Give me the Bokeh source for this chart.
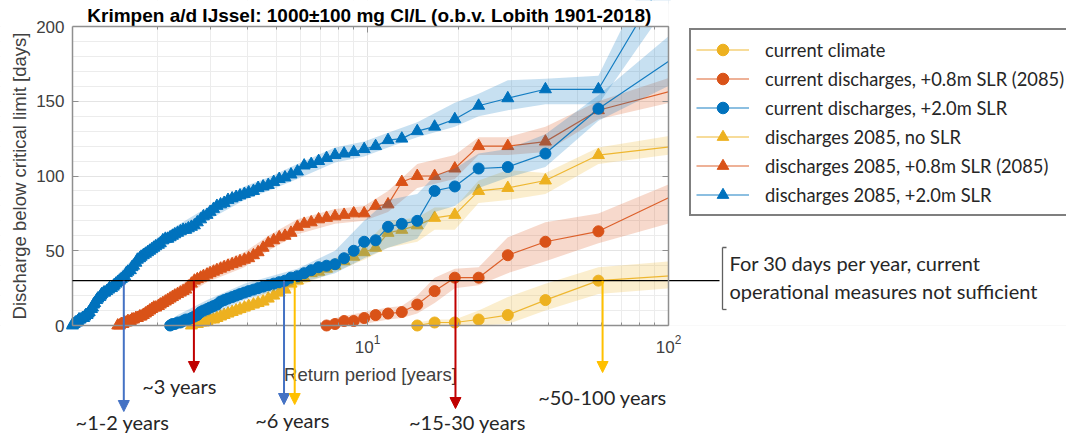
from bokeh.plotting import figure
from bokeh.models import (Range1d, FixedTicker, Legend, LegendItem, Label, Arrow, NormalHead,
                          BoxAnnotation, LogAxis, LinearAxis)
from bokeh.embed import file_html
from bokeh.resources import INLINE

# ---------------- data ----------------
# return periods [years] belonging to rank 1, 2, 3, ... (117 / rank)
return_period = [117, 58.5, 39, 29.25, 23.4, 19.5, 16.71, 14.63, 13.0, 11.7,
                 10.64, 9.75, 9.0, 8.36, 7.8, 7.31, 6.88, 6.5, 6.16, 5.85,
                 5.57, 5.32, 5.09, 4.88, 4.68, 4.5, 4.33, 4.18, 4.03, 3.9,
                 3.77, 3.66, 3.55, 3.44, 3.34, 3.25, 3.16, 3.08, 3.0, 2.93,
                 2.85, 2.79, 2.72, 2.66, 2.6, 2.54, 2.49, 2.44, 2.39, 2.34,
                 2.29, 2.25, 2.21, 2.17, 2.13, 2.09, 2.05, 2.02, 1.98, 1.95,
                 1.92, 1.89, 1.86, 1.83, 1.8, 1.77, 1.75, 1.72, 1.7, 1.67,
                 1.65, 1.63, 1.6, 1.58, 1.56, 1.54, 1.52, 1.5, 1.48, 1.46,
                 1.44, 1.43, 1.41, 1.39, 1.38, 1.36, 1.34, 1.33, 1.31, 1.3,
                 1.29, 1.27, 1.26, 1.24, 1.23, 1.22, 1.21, 1.19, 1.18, 1.17,
                 1.16, 1.15, 1.14, 1.13, 1.11, 1.1, 1.09, 1.08, 1.07, 1.06,
                 1.05, 1.047]

# days below critical limit, sorted per rank
cur_climate = [34, 30, 17, 7, 4, 2, 2, 0]
cur_slr08 = [92, 63, 56, 47, 32, 32, 23, 14, 9, 8, 7, 5, 3, 3, 1, 0]
cur_slr20 = [186, 145, 115, 106, 105, 93, 90, 70, 68, 66,
             57, 56, 50, 45, 41, 40, 39, 37, 35, 33,
             32, 30, 29, 28, 27, 26, 25, 24, 23, 22,
             21, 20, 19, 18, 17, 16, 14, 13, 12, 11,
             10, 9, 7, 6, 5, 4, 4, 3, 2, 2,
             1, 1, 0]
fut_noslr = [121, 114, 97, 92, 90, 74, 72, 67, 64, 62,
             52, 49, 46, 43, 40, 38, 36, 35, 32, 30,
             28, 24, 22, 20, 18, 16, 15, 14, 13, 12,
             11, 10, 9, 8, 7, 6, 5, 4, 4, 3,
             2, 2, 1, 1, 0]
fut_slr08 = [160, 144, 123, 120, 120, 105, 100, 100, 96, 81,
             80, 75, 75, 74, 73, 72, 71, 69, 68, 66,
             62, 60, 59, 57, 55, 52, 49, 47, 45, 44,
             43, 42, 41, 40, 39, 38, 37, 36, 35, 34,
             33, 32, 31, 30, 28, 26, 24, 23, 22, 21,
             20, 19, 18, 17, 16, 15, 14, 13, 12, 12,
             11, 10, 9, 8, 7, 6, 6, 5, 5, 4,
             4, 3, 3, 2, 2, 1, 1, 0, 0]
fut_slr20 = [260, 158, 158, 152, 147, 138, 133, 130, 125, 124,
             120, 118, 116, 115, 114, 112, 110, 108, 107, 103,
             101, 99, 98, 96, 94, 93, 92, 90, 89, 88,
             87, 86, 85, 84, 82, 81, 80, 78, 76, 74,
             73, 71, 69, 67, 66, 65, 64, 64, 63, 62,
             61, 60, 59, 58, 58, 57, 55, 54, 53, 52,
             51, 50, 49, 48, 47, 46, 45, 44, 42, 40,
             39, 37, 36, 35, 33, 32, 31, 30, 29, 28,
             27, 26, 25, 25, 24, 23, 22, 22, 21, 20,
             19, 18, 17, 15, 14, 12, 11, 9, 8, 7,
             7, 6, 5, 5, 4, 4, 3, 2, 2, 1,
             1, 0]

# uncertainty bands (900 / 1100 mg Cl/L)
cur_climate_band_T = [117, 58.5, 39, 29.25, 23.4, 19.5, 16.71, 14.63]
cur_climate_band_lo = [26, 21, 10, 1, 0, 0, 0, 0]
cur_climate_band_hi = [44, 39, 28, 19, 10, 4, 4, 2]

cur_slr08_band_T = [117, 58.5, 39, 29.25, 23.4, 19.5, 16.71, 14.63, 13.0, 11.7, 9.75, 7.8, 7.31]
cur_slr08_band_lo = [72, 55, 43, 35, 27, 25, 15, 8, 5, 4, 1, 0, 0]
cur_slr08_band_hi = [100, 75, 69, 59, 39, 38, 32, 20, 13, 12, 9, 5, 3]

cur_slr20_band_T = [117, 58.5, 39, 29.25, 23.4, 19.5, 16.71, 14.63, 11.7, 9.75, 7.8, 5.85, 3.9, 2.93, 2.34, 2.21]
cur_slr20_band_lo = [167, 137, 106, 99, 92, 80, 76, 58, 52, 45, 35, 28, 17, 6, 0, 0]
cur_slr20_band_hi = [205, 154, 128, 118, 115, 105, 100, 88, 84, 70, 50, 38, 28, 17, 7, 3]

fut_noslr_band_T = [117, 58.5, 39, 29.25, 23.4, 19.5, 16.71, 14.63, 11.7, 9.75, 7.8, 5.85, 4.68, 3.9, 2.93, 2.6]
fut_noslr_band_lo = [116, 108, 88, 84, 82, 64, 64, 56, 52, 44, 36, 26, 14, 8, 0, 0]
fut_noslr_band_hi = [129, 119, 102, 104, 97, 79, 79, 72, 70, 54, 45, 35, 23, 16, 7, 3]

fut_slr08_band_T = [117, 58.5, 39, 29.25, 23.4, 19.5, 14.63, 11.7, 9.75, 7.8, 5.85, 4.68, 3.9, 2.93, 2.34, 1.95, 1.67, 1.46]
fut_slr08_band_lo = [152, 138, 116, 114, 114, 98, 92, 76, 70, 68, 61, 50, 39, 29, 17, 8, 0, 0]
fut_slr08_band_hi = [170, 150, 133, 126, 126, 114, 108, 90, 80, 78, 71, 60, 49, 39, 26, 16, 8, 3]

fut_slr20_band_T = [117, 58.5, 39, 29.25, 23.4, 19.5, 14.63, 11.7, 9.75, 7.8, 5.85, 4.68, 3.9, 2.93, 2.34, 1.95, 1.67, 1.46, 1.3, 1.17, 1.047]
fut_slr20_band_lo = [235, 148, 148, 144, 140, 133, 126, 119, 113, 109, 98, 90, 84, 70, 58, 48, 36, 24, 16, 4, 0]
fut_slr20_band_hi = [290, 167, 165, 164, 155, 149, 136, 129, 123, 119, 108, 99, 93, 79, 67, 57, 45, 33, 24, 11, 3]

labels = ["current climate", "current discharges, +0.8m SLR (2085)", "current discharges, +2.0m SLR",
          "discharges 2085, no SLR", "discharges 2085, +0.8m SLR (2085)", "discharges 2085, +2.0m SLR"]

critical_days = 30
crossing_T = [1.55, 2.65, 5.28, 5.73, 19.6, 60.4]
crossing_text = ["~1-2 years", "~3 years", "~6 years", "~6 years", "~15-30 years", "~50-100 years"]

x_min, x_max = 1.047, 100
y_min, y_max = 0, 200
x_ticks = [10, 100]
x_minor_ticks = [2, 3, 4, 5, 6, 7, 8, 9, 20, 30, 40, 50, 60, 70, 80, 90]
y_ticks = [0, 50, 100, 150, 200]
y_minor_ticks = [10, 20, 30, 40, 60, 70, 80, 90, 110, 120, 130, 140, 160, 170, 180, 190]

# ---------------- layout / style ----------------
BLUE, ORANGE, YELLOW = "#0072BD", "#D95319", "#EDB120"
AX = "#8f8f8f"
TXT = "#262626"
SANS = "Liberation Sans"
CAL = "Lato"

W, H = 1066, 434
# where the axes box sits on the canvas (pixels)
BOX_L, BOX_R, BOX_T, BOX_B = 72, 668, 26, 325
DEC = (BOX_R - BOX_L) / (2.0 - 0.0199)            # pixels per decade
YPX = (BOX_B - BOX_T) / float(y_max - y_min)     # pixels per day
lx0 = 0.0199 - BOX_L / DEC
lx1 = 2.0 + (W - BOX_R) / DEC
x_range = Range1d(10 ** lx0, 10 ** lx1)
y_range = Range1d(y_min - (H - BOX_B) / YPX, y_max + BOX_T / YPX)


def T_at(px):  # canvas pixel -> return period
    return 10 ** (lx0 + px / DEC)


def v_at(py):  # canvas pixel -> days
    return y_max - (py - BOX_T) / YPX


p = figure(width=W, height=H, x_axis_type="log", x_range=x_range, y_range=y_range,
           output_backend="svg", toolbar_location=None,
           min_border_left=0, min_border_right=0, min_border_top=0, min_border_bottom=0)
p.background_fill_color = "white"
p.border_fill_color = "white"
p.outline_line_color = None

xt = FixedTicker(ticks=x_ticks, minor_ticks=x_minor_ticks)
yt = FixedTicker(ticks=y_ticks, minor_ticks=y_minor_ticks)
bx = p.xaxis[0]
ly = p.yaxis[0]
bx.ticker = xt
p.xgrid.ticker = xt
ly.ticker = yt
p.ygrid.ticker = yt
bx.fixed_location = y_min
bx.bounds = (x_min, x_max)
ly.fixed_location = x_min
ly.bounds = (y_min, y_max)

top_ax = LogAxis(ticker=xt, fixed_location=y_max, bounds=(x_min, x_max))
right_ax = LinearAxis(ticker=yt, fixed_location=x_max, bounds=(y_min, y_max))

for ax in (bx, ly, top_ax, right_ax):
    ax.axis_line_color = AX
    ax.axis_line_width = 1.5
    ax.major_tick_line_color = AX
    ax.major_tick_in = 6
    ax.major_tick_out = 0
    ax.minor_tick_line_color = AX
    ax.minor_tick_in = 3
    ax.minor_tick_out = 0
    ax.major_label_text_font = SANS
    ax.major_label_text_font_size = "17px"
    ax.major_label_text_color = "#404040"
    ax.axis_label_text_font = SANS
    ax.axis_label_text_font_size = "18.5px"
    ax.axis_label_text_font_style = "normal"
    ax.axis_label_text_color = "#404040"
for ax in (ly, right_ax):
    ax.minor_tick_line_color = None
for ax in (top_ax, right_ax):
    ax.major_label_text_alpha = 0
    ax.major_label_text_font_size = "1px"
    ax.level = "overlay"
p.add_layout(top_ax, "above")
p.add_layout(right_ax, "right")

ly.major_label_standoff = 8
ly.axis_label_standoff = 3
bx.major_label_standoff = 9
bx.axis_label_standoff = 8
bx.axis_label = "Return period [years]"
ly.axis_label = "Discharge below critical limit [days]"

for g in (p.xgrid[0], p.ygrid[0]):
    g.grid_line_color = "#e4e4e4"
    g.minor_grid_line_color = "#ececec"

# white masks: keep grid and data inside the axes box
p.add_layout(BoxAnnotation(right=x_min, fill_color="white", fill_alpha=1, line_color=None, level="underlay"))
p.add_layout(BoxAnnotation(top=y_min, fill_color="white", fill_alpha=1, line_color=None, level="underlay"))

series = [
    (fut_noslr, "triangle", YELLOW, fut_noslr_band_T, fut_noslr_band_lo, fut_noslr_band_hi, 3),
    (fut_slr08, "triangle", ORANGE, fut_slr08_band_T, fut_slr08_band_lo, fut_slr08_band_hi, 4),
    (fut_slr20, "triangle", BLUE, fut_slr20_band_T, fut_slr20_band_lo, fut_slr20_band_hi, 5),
    (cur_climate, "circle", YELLOW, cur_climate_band_T, cur_climate_band_lo, cur_climate_band_hi, 0),
    (cur_slr08, "circle", ORANGE, cur_slr08_band_T, cur_slr08_band_lo, cur_slr08_band_hi, 1),
    (cur_slr20, "circle", BLUE, cur_slr20_band_T, cur_slr20_band_lo, cur_slr20_band_hi, 2),
]
items = [None] * 6
for vals, mk, col, bT, blo, bhi, li in series:
    xs = return_period[:len(vals)]
    lr = p.line(xs, vals, line_color=col, line_width=1.2, line_alpha=0.9)
    sr = p.scatter(xs, vals, marker=mk, size=12 if mk == "triangle" else 11,
                   fill_color=col, line_color=col)
    p.varea(x=bT, y1=blo, y2=bhi, fill_color=col, fill_alpha=0.22)
    items[li] = LegendItem(label=labels[li], renderers=[lr, sr])

p.add_layout(BoxAnnotation(left=x_min, right=x_max, bottom=y_max, fill_color="white",
                           fill_alpha=1, line_color=None))
p.add_layout(BoxAnnotation(left=x_max, bottom=y_min, fill_color="white",
                           fill_alpha=1, line_color=None))

# title
p.add_layout(Label(x=T_at(369), y=v_at(15), text="Krimpen a/d IJssel: 1000\u00b1100 mg Cl/L (o.b.v. Lobith 1901-2018)",
                   text_align="center", text_baseline="middle", text_font=SANS,
                   text_font_size="19px", text_font_style="bold", text_color="black"))

# critical line with bracket and remark
p.add_layout(Arrow(start=None, end=None, x_start=x_min, y_start=critical_days,
                   x_end=T_at(719), y_end=critical_days, line_color="black", line_width=1.3))
BR = "#606060"
for (xa, ya, xb, yb) in [(722, 247, 722, 309), (722, 247, 726, 247), (722, 309, 726, 309)]:
    p.add_layout(Arrow(start=None, end=None, x_start=T_at(xa), y_start=v_at(ya),
                       x_end=T_at(xb), y_end=v_at(yb), line_color=BR, line_width=1.3))
p.add_layout(Label(x=T_at(729), y=v_at(262), text="For 30 days per year, current",
                   text_align="left", text_baseline="middle", text_font=CAL,
                   text_font_size="20px", text_color=TXT))
p.add_layout(Label(x=T_at(729), y=v_at(290), text="operational measures not sufficient",
                   text_align="left", text_baseline="middle", text_font=CAL,
                   text_font_size="20px", text_color=TXT))

# arrows to return periods
arrow_cols = ["#4472C4", "#C00000", "#4472C4", "#FFC000", "#C00000", "#FFC000"]
arrow_tip = [411, 372, 404, 404, 408, 372]
text_pos = [(122, 421), (179, 385), (292, 419), None, (467, 421), (602, 396)]
for Tc, col, tip, tp, tx in zip(crossing_T, arrow_cols, arrow_tip, text_pos, crossing_text):
    p.add_layout(Arrow(start=None, end=NormalHead(size=11, fill_color=col, line_color=col, line_width=1),
                       x_start=Tc, y_start=critical_days, x_end=Tc, y_end=v_at(tip),
                       line_color=col, line_width=2))
    if tp is not None:
        p.add_layout(Label(x=T_at(tp[0]), y=v_at(tp[1]), text=tx, text_align="center",
                           text_baseline="middle", text_font=CAL, text_font_size="20px",
                           text_color=TXT))

# legend (outside the axes box, right)
LEG_PAD, ROW = 5, 29
legend_h = 2 * LEG_PAD + 6 * ROW
legend = Legend(items=items, location=(689, H - 32 - legend_h))
legend.border_line_color = "black"
legend.border_line_width = 2
legend.background_fill_color = "white"
legend.background_fill_alpha = 1
legend.label_text_font = CAL
legend.label_text_font_size = "18.3px"
legend.label_text_color = TXT
legend.glyph_width = 53
legend.glyph_height = ROW
legend.label_height = ROW
legend.spacing = 0
legend.padding = LEG_PAD
legend.margin = 0
legend.label_standoff = 16
p.add_layout(legend)

open("out.html", "w").write(file_html(p, INLINE))
